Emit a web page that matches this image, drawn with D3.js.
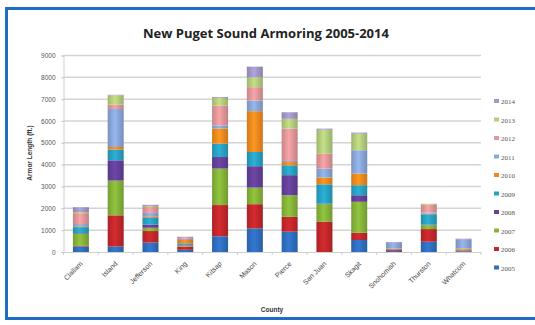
<!DOCTYPE html>
<html><head><meta charset="utf-8">
<script src="https://cdn.jsdelivr.net/npm/d3@7"></script>
<style>html,body{margin:0;padding:0;background:#fff}svg{display:block}</style>
</head><body>
<script>
const counties = ["Clallam","Island","Jefferson","King","Kitsap","Mason","Pierce","San Juan","Skagit","Snohomish","Thurston","Whatcom"];
const years = ["2005","2006","2007","2008","2009","2010","2011","2012","2013","2014"];
const v2005 = [250, 250, 430, 100, 720, 1080, 930, 0, 550, 50, 470, 30];
const v2006 = [30, 1430, 530, 150, 1430, 1110, 680, 1380, 330, 40, 580, 40];
const v2007 = [550, 1590, 150, 50, 1670, 760, 990, 810, 1420, 0, 180, 0];
const v2008 = [30, 930, 150, 50, 530, 980, 920, 30, 300, 30, 20, 0];
const v2009 = [280, 490, 300, 50, 610, 650, 450, 880, 460, 0, 480, 30];
const v2010 = [40, 120, 50, 150, 690, 1870, 150, 310, 530, 40, 30, 60];
const v2011 = [100, 1740, 180, 50, 150, 490, 50, 410, 1070, 250, 50, 400];
const v2012 = [500, 200, 270, 100, 910, 610, 1480, 680, 0, 0, 350, 0];
const v2013 = [50, 430, 50, 0, 350, 450, 450, 1100, 760, 0, 50, 0];
const v2014 = [220, 20, 50, 0, 40, 490, 300, 50, 50, 40, 0, 50];
const yTicks = [0,1000,2000,3000,4000,5000,6000,7000,8000,9000];
const colors = ["#2f6fc0","#c3272b","#86b43a","#65409a","#27a2c4","#f08a1e","#8aa7da","#e3979a","#b4cd7c","#a397c8"];

const series = [v2005,v2006,v2007,v2008,v2009,v2010,v2011,v2012,v2013,v2014];
const table = counties.map((c,i)=>{const o={county:c}; years.forEach((y,j)=>o[y]=series[j][i]); return o;});
const stacked = d3.stack().keys(years)(table);

const W=535,H=325;
const svg = d3.select("body").append("svg").attr("width",W).attr("height",H);
svg.append("rect").attr("width",W).attr("height",H).attr("fill","#fff");

// blue frame
svg.append("path").attr("d","M6.5,320 V8.5 H535").attr("fill","none").attr("stroke","#1f6cc4").attr("stroke-width",3);
svg.append("line").attr("x1",5).attr("x2",535).attr("y1",318.5).attr("y2",318.5).attr("stroke","#1f6cc4").attr("stroke-width",3);

const x = d3.scaleBand().domain(counties).range([63.5,481]).paddingInner(0).paddingOuter(0);
const y = d3.scaleLinear().domain([0,9000]).range([252,55.5]);

// gridlines
svg.append("g").selectAll("line").data(yTicks.slice(1)).join("line")
  .attr("x1",63.5).attr("x2",481).attr("y1",d=>y(d)).attr("y2",d=>y(d))
  .attr("stroke","#d4d4d4").attr("stroke-width",1.5);

// y axis
const ya = svg.append("g").attr("transform","translate(63.5,0)")
  .call(d3.axisLeft(y).tickValues(yTicks).tickSize(2).tickPadding(6).tickFormat(d3.format("d")));
ya.select(".domain").attr("stroke","#cfcfcf");
ya.selectAll(".tick line").attr("stroke","#bbb");
ya.selectAll("text").attr("font-family","Liberation Sans, sans-serif").attr("font-size",6.5).attr("fill","#555");

// defs gradients
const defs = svg.append("defs");
colors.forEach((c,i)=>{
  const g = defs.append("linearGradient").attr("id","g"+i).attr("x1","0").attr("x2","1").attr("y1","0").attr("y2","0");
  const cc = d3.color(c);
  g.append("stop").attr("offset","0").attr("stop-color",cc.darker(0.35));
  g.append("stop").attr("offset","0.45").attr("stop-color",cc.brighter(0.25));
  g.append("stop").attr("offset","1").attr("stop-color",cc.darker(0.45));
});

const bw = x.bandwidth()*0.46;
svg.append("g").selectAll("g").data(stacked).join("g")
  .attr("fill",(d,i)=>"url(#g"+i+")")
  .selectAll("rect").data(d=>d).join("rect")
  .attr("x",d=>x(d.data.county)+(x.bandwidth()-bw)/2)
  .attr("width",bw)
  .attr("y",d=>y(d[1]))
  .attr("height",d=>Math.max(0,y(d[0])-y(d[1])));

// x axis
const xa = svg.append("g").attr("transform","translate(0,252)")
  .call(d3.axisBottom(x).tickSize(0).tickPadding(6));
xa.select(".domain").attr("stroke","#cfcfcf").attr("stroke-width",1.2);
xa.selectAll(".tick text")
  .attr("font-family","Liberation Sans, sans-serif").attr("font-size",7).attr("fill","#444")
  .attr("text-anchor","end").attr("dy",0)
  .attr("transform","translate(-2,8) rotate(-45)");
// minor ticks at band boundaries
svg.append("g").selectAll("line").data(counties.concat(["_end"])).join("line")
  .attr("x1",(d,i)=>i<counties.length?x(d):x.range()[1]).attr("x2",(d,i)=>i<counties.length?x(d):x.range()[1])
  .attr("y1",252).attr("y2",255).attr("stroke","#cfcfcf");

// titles
svg.append("text").attr("x",266).attr("y",38).attr("text-anchor","middle")
  .attr("font-family","Open Sans, sans-serif").attr("font-weight","bold").attr("font-size",13)
  .attr("fill","#222").text("New Puget Sound Armoring 2005-2014");
svg.append("text").attr("transform","translate(32,153) rotate(-90)").attr("text-anchor","middle")
  .attr("font-family","Liberation Sans, sans-serif").attr("font-weight","bold").attr("font-size",6.5)
  .attr("fill","#333").text("Armor Length (ft.)");
svg.append("text").attr("x",272).attr("y",312).attr("text-anchor","middle")
  .attr("font-family","Liberation Sans, sans-serif").attr("font-weight","bold").attr("font-size",6.5)
  .attr("fill","#333").text("County");

// legend
const leg = svg.append("g").selectAll("g").data(years.slice().reverse()).join("g")
  .attr("transform",(d,i)=>`translate(494,${102+i*18.5})`);
leg.append("rect").attr("x",0).attr("y",-3).attr("width",5).attr("height",4)
  .attr("fill",d=>colors[years.indexOf(d)]);
leg.append("text").attr("x",7).attr("y",2).attr("font-family","Liberation Serif, serif").attr("font-size",7)
  .attr("fill","#555").text(d=>d);
</script>
</body></html>
